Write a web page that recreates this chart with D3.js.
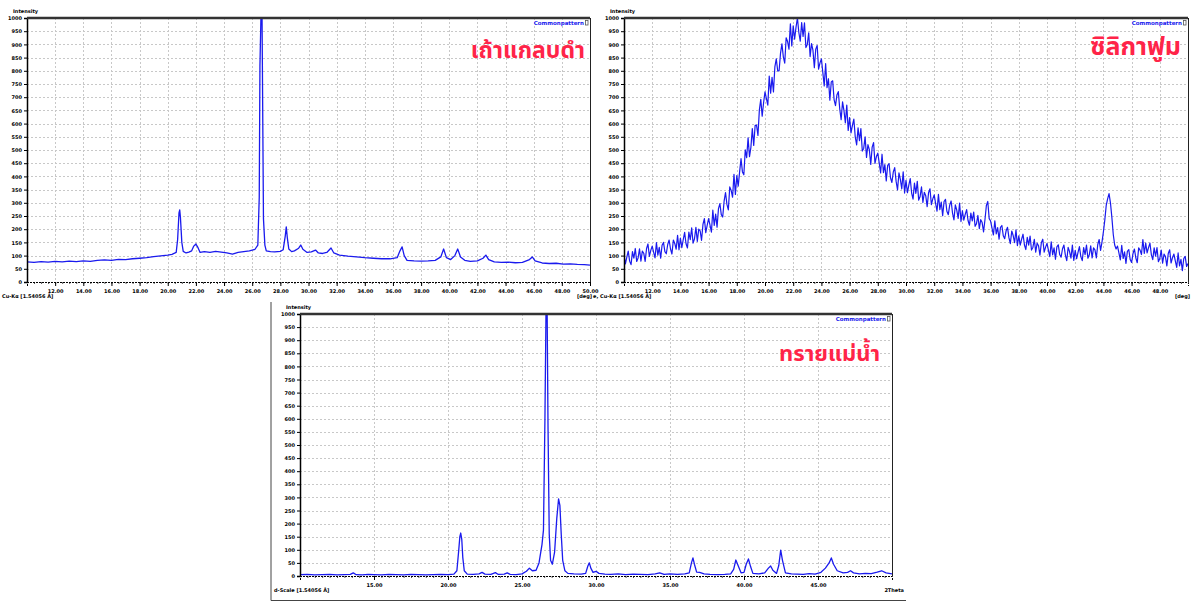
<!DOCTYPE html>
<html>
<head>
<meta charset="utf-8">
<script src="https://cdn.jsdelivr.net/npm/d3@7"></script>
<style>
  body { margin: 0; background: #fff; }
  svg { display: block; }
  .tick text { font-family: "DejaVu Sans", sans-serif; font-weight: bold; }
</style>
</head>
<body>
<div id="chart"></div>
<script>
// three XRD patterns: rice husk ash, silica fume, river sand

// black rice husk ash  [2theta, counts]
var ashPattern = [
  [10.0,76],[10.5,74],[11.0,77],[11.5,75],[12.0,78],[12.5,76],[13.0,79],[13.5,77],[14.0,80],[14.5,78],
  [15.0,82],[15.5,84],[16.0,82],[16.5,86],[17.0,85],[17.5,88],[18.0,90],[18.5,92],[19.0,96],[19.5,99],
  [20.0,102],[20.3,105],[20.6,112],[20.7,160],[20.8,262],[20.85,273],[20.9,245],[21.0,150],[21.1,116],[21.3,110],
  [21.5,113],[21.7,118],[21.85,136],[22.0,144],[22.15,130],[22.3,112],[22.6,115],[23.0,112],[23.4,116],[23.8,113],
  [24.2,110],[24.6,106],[25.0,112],[25.4,115],[25.8,118],[26.2,124],[26.4,140],[26.5,320],[26.55,820],[26.62,1000],
  [26.7,1000],[26.75,620],[26.8,240],[26.9,140],[27.0,118],[27.3,115],[27.6,114],[28.0,116],[28.2,122],[28.35,175],
  [28.42,209],[28.5,165],[28.6,125],[28.8,115],[29.0,118],[29.3,128],[29.45,140],[29.6,124],[29.9,112],[30.2,114],
  [30.5,121],[30.7,110],[31.0,108],[31.3,112],[31.6,129],[31.8,110],[32.2,102],[32.8,98],[33.4,95],[34.0,92],
  [34.6,90],[35.2,88],[35.8,88],[36.3,92],[36.5,118],[36.65,133],[36.8,100],[37.0,82],[37.5,80],[38.0,79],
  [38.5,80],[39.0,82],[39.4,95],[39.6,125],[39.8,92],[40.1,85],[40.4,100],[40.6,125],[40.8,95],[41.1,82],
  [41.5,78],[42.0,80],[42.4,90],[42.6,102],[42.8,85],[43.2,76],[43.7,74],[44.2,75],[44.7,73],[45.2,74],
  [45.7,85],[45.9,95],[46.1,80],[46.6,72],[47.1,70],[47.6,71],[48.1,68],[48.6,69],[49.1,67],[49.6,66],[50.0,64]
];

// silica fume, scan from 10.0 in steps of 0.1 deg (one row = 1 deg)
var fumeStart = 10.0, fumeStep = 0.1;
var fumeCounts = [
  100, 69, 94, 117, 79, 66, 115, 90, 127, 78,
  91, 126, 79, 117, 109, 78, 127, 144, 97, 120,
  136, 113, 91, 149, 102, 131, 90, 139, 150, 115,
  107, 142, 159, 125, 106, 159, 146, 124, 177, 122,
  166, 130, 160, 188, 145, 129, 189, 160, 205, 147,
  164, 207, 154, 200, 194, 158, 218, 240, 187, 215,
  240, 215, 189, 272, 214, 257, 208, 278, 297, 255,
  246, 306, 339, 294, 273, 360, 347, 321, 408, 332,
  403, 363, 417, 467, 417, 406, 501, 471, 546, 475,
  510, 581, 517, 593, 594, 555, 651, 692, 628, 679,
  720, 695, 670, 780, 715, 775, 720, 815, 845, 800,
  800, 866, 902, 853, 829, 925, 911, 882, 978, 894,
  970, 920, 965, 1000, 945, 912, 983, 930, 982, 888,
  900, 944, 854, 903, 878, 812, 882, 896, 806, 830,
  845, 794, 743, 827, 736, 770, 689, 758, 762, 691,
  668, 708, 721, 656, 615, 682, 649, 603, 670, 574,
  623, 565, 593, 617, 550, 519, 584, 535, 581, 496,
  506, 550, 472, 520, 501, 445, 511, 528, 449, 475,
  488, 451, 413, 484, 414, 445, 383, 442, 448, 395,
  377, 417, 433, 381, 349, 413, 389, 353, 417, 337,
  385, 338, 367, 392, 337, 314, 375, 336, 381, 310,
  324, 360, 301, 340, 327, 285, 338, 353, 293, 315,
  330, 298, 268, 332, 274, 303, 251, 305, 313, 268,
  255, 291, 307, 261, 235, 292, 272, 241, 299, 229,
  270, 234, 256, 274, 233, 215, 261, 231, 265, 211,
  221, 252, 202, 236, 225, 190, 236, 290, 305, 240,
  231, 204, 178, 232, 182, 206, 162, 207, 214, 175,
  164, 194, 207, 168, 145, 193, 176, 149, 198, 138,
  175, 140, 162, 181, 140, 123, 169, 140, 174, 121,
  131, 162, 113, 147, 137, 102, 149, 162, 113, 132,
  146, 121, 96, 152, 103, 129, 86, 133, 141, 104,
  94, 126, 140, 103, 81, 131, 115, 90, 140, 82,
  120, 88, 112, 134, 96, 81, 130, 104, 140, 90,
  103, 137, 91, 129, 122, 91, 142, 161, 120, 151,
  190, 235, 290, 315, 335, 300, 245, 180, 140, 125,
  136, 110, 84, 139, 89, 114, 70, 116, 123, 85,
  74, 108, 125, 91, 73, 129, 121, 104, 161, 108,
  147, 110, 130, 147, 104, 85, 129, 98, 130, 77,
  89, 121, 71, 106, 96, 61, 108, 122, 72, 92,
  106, 80, 55, 110, 61, 86, 43, 89, 97, 59,
  70
];

// river sand  [2theta, counts]
var sandPattern = [
  [10.0,5],[10.5,6],[11.0,4],[11.5,5],[12.0,6],[12.5,4],[13.0,5],[13.4,6],[13.6,12],[13.8,5],
  [14.2,4],[14.6,6],[15.0,5],[15.5,4],[16.0,6],[16.5,5],[17.0,4],[17.5,6],[18.0,5],[18.5,4],
  [19.0,5],[19.5,6],[20.0,5],[20.4,7],[20.6,20],[20.72,95],[20.8,150],[20.86,164],[20.93,140],[21.0,70],
  [21.1,20],[21.3,7],[21.7,6],[22.1,8],[22.3,14],[22.5,7],[22.9,6],[23.2,13],[23.4,6],[23.8,7],
  [24.0,12],[24.2,6],[24.6,5],[25.0,8],[25.3,18],[25.5,30],[25.7,20],[25.95,22],[26.15,50],[26.35,120],
  [26.45,175],[26.55,600],[26.62,1000],[26.7,1000],[26.76,560],[26.84,160],[26.93,60],[27.05,45],[27.2,90],[27.35,220],
  [27.47,294],[27.56,270],[27.65,160],[27.75,60],[27.9,20],[28.1,10],[28.5,8],[29.0,7],[29.3,10],[29.45,38],
  [29.55,50],[29.65,30],[29.8,14],[30.0,18],[30.2,10],[30.6,7],[31.0,6],[31.5,8],[32.0,5],[32.5,7],
  [33.0,6],[33.5,5],[34.0,8],[34.3,12],[34.6,6],[35.0,8],[35.5,6],[36.0,8],[36.3,12],[36.45,50],
  [36.55,69],[36.65,45],[36.8,15],[37.0,14],[37.3,8],[37.7,6],[38.2,5],[38.7,6],[39.1,8],[39.3,25],
  [39.45,61],[39.6,40],[39.8,12],[40.0,14],[40.15,45],[40.3,65],[40.45,35],[40.6,10],[41.0,8],[41.4,12],
  [41.65,30],[41.8,38],[41.95,22],[42.2,10],[42.35,40],[42.48,99],[42.6,60],[42.8,12],[43.2,8],[43.6,7],
  [44.0,6],[44.4,9],[44.8,7],[45.2,14],[45.5,30],[45.75,50],[45.9,69],[46.05,45],[46.3,20],[46.7,12],
  [47.0,14],[47.2,20],[47.4,12],[47.8,8],[48.2,10],[48.6,9],[49.0,15],[49.3,20],[49.6,12],[50.0,8]
];

var yTicks = d3.range(0, 1001, 50);
var ashTicks = d3.range(12, 50.1, 2);
var fumeTicks = d3.range(12, 48.1, 2);
var sandTicks = [15, 20, 25, 30, 35, 40, 45];

var titles = ["เถ้าแกลบดำ", "ซิลิกาฟูม", "ทรายแม่น้ำ"];

var fumePattern = fumeCounts.map(function(c, i) { return [fumeStart + i * fumeStep, c]; });

var svg = d3.select("#chart").append("svg")
  .attr("width", 1195)
  .attr("height", 602);

// frame around bottom screenshot
svg.append("path")
  .attr("d", "M271,302V600.5H906")
  .attr("fill", "none")
  .attr("stroke", "#444")
  .attr("stroke-width", 1);

var panels = [
  {id: "ash", data: ashPattern, ticks: ashTicks, title: titles[0], left: 27, right: 590, top: 18, bottom: 282,
   titleX: 585, titleY: 58, titleSize: 23, radLabel: "Cu-Kα [1.54056 Å]", radX: 2, unit: "[deg]", unitX: 592},
  {id: "fume", data: fumePattern, ticks: fumeTicks, title: titles[1], left: 624, right: 1188, top: 18, bottom: 282,
   titleX: 1181, titleY: 55, titleSize: 25, radLabel: "e, Cu-Kα [1.54056 Å]", radX: 593, unit: "[deg]", unitX: 1190},
  {id: "sand", data: sandPattern, ticks: sandTicks, title: titles[2], left: 300, right: 892, top: 314, bottom: 576,
   titleX: 880, titleY: 361, titleSize: 22, radLabel: "d-Scale [1.54056 Å]", radX: 274, unit: "2Theta", unitX: 904}
];

panels.forEach(drawPanel);

function drawPanel(p) {
  var x = d3.scaleLinear().domain([10, 50]).range([p.left, p.right]);
  var y = d3.scaleLinear().domain([0, 1000]).range([p.bottom, p.top]);
  var g = svg.append("g");

  // dotted grid
  g.append("g").selectAll("line")
    .data(yTicks.slice(1))
    .enter().append("line")
      .attr("x1", p.left).attr("x2", p.right)
      .attr("y1", function(d) { return Math.round(y(d)) + 0.5; })
      .attr("y2", function(d) { return Math.round(y(d)) + 0.5; })
      .attr("stroke", "#c8c8c8")
      .attr("stroke-dasharray", "2,2");
  g.append("g").selectAll("line")
    .data(p.ticks)
    .enter().append("line")
      .attr("x1", function(d) { return Math.round(x(d)) + 0.5; })
      .attr("x2", function(d) { return Math.round(x(d)) + 0.5; })
      .attr("y1", p.top).attr("y2", p.bottom)
      .attr("stroke", "#c8c8c8")
      .attr("stroke-dasharray", "2,2");

  // trace, clipped at the plot box
  g.append("clipPath").attr("id", "clip-" + p.id)
    .append("rect")
      .attr("x", p.left).attr("y", p.top)
      .attr("width", p.right - p.left).attr("height", p.bottom - p.top);

  var line = d3.line()
    .x(function(d) { return x(d[0]); })
    .y(function(d) { return y(d[1]); });

  g.append("path")
    .datum(p.data)
    .attr("clip-path", "url(#clip-" + p.id + ")")
    .attr("d", line)
    .attr("fill", "none")
    .attr("stroke", "#1a1aee")
    .attr("stroke-width", p.id == "fume" ? 1.2 : 1.3)
    .attr("stroke-linejoin", "round");

  // axes
  var yAxis = g.append("g")
    .attr("transform", "translate(" + p.left + ",0)")
    .style("font-size", "5px")
    .call(d3.axisLeft(y).tickValues(yTicks).tickSize(3).tickPadding(2).tickFormat(d3.format("d")));
  yAxis.select(".domain").attr("stroke-width", 1.5);

  g.append("g")
    .attr("transform", "translate(0," + p.bottom + ")")
    .call(d3.axisBottom(x).tickValues(d3.range(10.5, 50, 0.5)).tickSize(2).tickFormat(""))
    .call(function(a) { a.select(".domain").remove(); })
    .selectAll("line").attr("stroke", "#555");

  g.append("g")
    .attr("transform", "translate(0," + p.bottom + ")")
    .style("font-size", "5px")
    .call(d3.axisBottom(x).tickValues(p.ticks).tickSize(4).tickPadding(3).tickFormat(d3.format(".2f")))
    .select(".domain").attr("stroke-dasharray", "2,1");

  // top bar and right edge
  g.append("line")
    .attr("x1", p.left).attr("x2", p.right)
    .attr("y1", p.top).attr("y2", p.top)
    .attr("stroke", "#333").attr("stroke-width", 2.5);
  g.append("line")
    .attr("x1", p.right + 0.5).attr("x2", p.right + 0.5)
    .attr("y1", p.top).attr("y2", p.bottom)
    .attr("stroke", "#222");

  // small captions
  g.append("text")
    .attr("x", p.left - 14).attr("y", p.top - 5)
    .style("font-family", "DejaVu Sans, sans-serif")
    .style("font-size", "5px").style("font-weight", "bold")
    .text("Intensity");
  g.append("text")
    .attr("x", p.radX).attr("y", p.bottom + 16)
    .style("font-family", "DejaVu Sans, sans-serif")
    .style("font-size", "5px").style("font-weight", "bold")
    .text(p.radLabel);
  g.append("text")
    .attr("x", p.unitX).attr("y", p.bottom + 16)
    .attr("text-anchor", "end")
    .style("font-family", "DejaVu Sans, sans-serif")
    .style("font-size", "5px").style("font-weight", "bold")
    .text(p.unit);

  // legend
  g.append("text")
    .attr("x", p.right - 6).attr("y", p.top + 7)
    .attr("text-anchor", "end")
    .style("font-family", "DejaVu Sans, sans-serif")
    .style("font-size", "5.5px").style("font-weight", "bold")
    .style("fill", "#1a1aee")
    .text("Commonpattern");
  g.append("rect")
    .attr("x", p.right - 4.5).attr("y", p.top + 2.5)
    .attr("width", 2.5).attr("height", 4.5)
    .attr("fill", "none").attr("stroke", "#555").attr("stroke-width", 0.8);

  // sample name
  g.append("text")
    .attr("x", p.titleX).attr("y", p.titleY)
    .attr("text-anchor", "end")
    .style("font-family", "'Noto Sans Thai', Tahoma, 'DejaVu Sans', sans-serif")
    .style("font-size", p.titleSize + "px").style("font-weight", "bold")
    .style("fill", "#ff2448")
    .text(p.title);
}
</script>
</body>
</html>
